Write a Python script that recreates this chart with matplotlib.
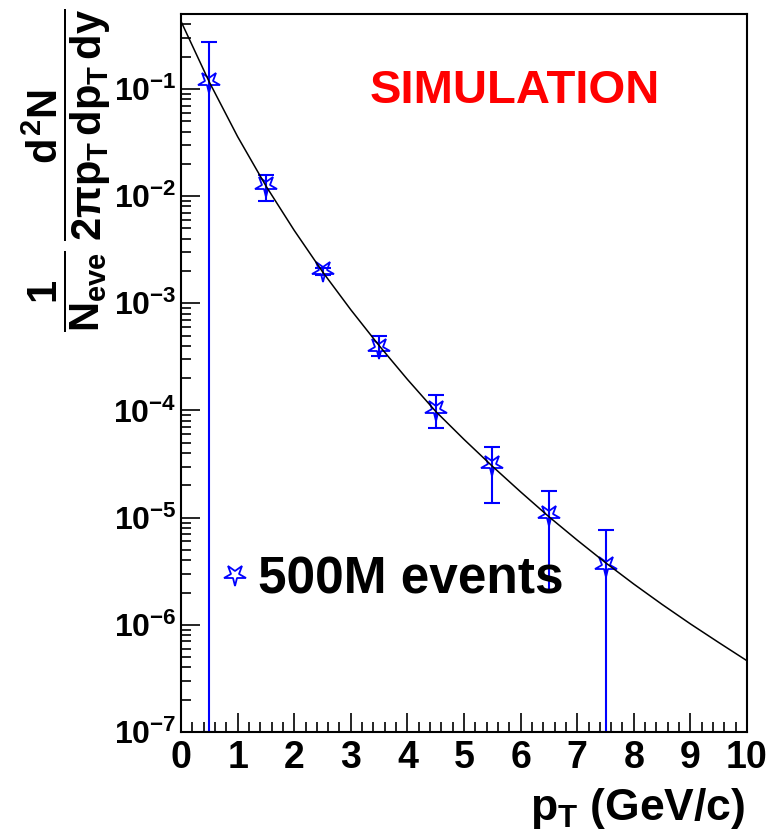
import numpy as np
import matplotlib
matplotlib.use("Agg")
import matplotlib.pyplot as plt
from matplotlib.markers import MarkerStyle
from matplotlib.transforms import Affine2D
from matplotlib.lines import Line2D
from matplotlib.ticker import FixedLocator, NullFormatter

plt.rcParams['font.family'] = ['Liberation Sans', 'DejaVu Sans']
plt.rcParams['font.weight'] = 'bold'
plt.rcParams['mathtext.fontset'] = 'custom'
plt.rcParams['mathtext.rm'] = 'Liberation Sans:bold'
plt.rcParams['mathtext.it'] = 'Liberation Sans:bold'
plt.rcParams['mathtext.bf'] = 'Liberation Sans:bold'
plt.rcParams['mathtext.sf'] = 'Liberation Sans:bold'

# ---- data ----
pt_centers = [0.5, 1.5, 2.5, 3.5, 4.5, 5.5, 6.5, 7.5]
yield_vals = [1.17e-1, 1.25e-2, 2.0e-3, 3.8e-4, 1.0e-4, 3.1e-5, 1.05e-5, 3.55e-6]
yield_hi = [2.75e-1, 1.57e-2, 2.15e-3, 4.9e-4, 1.38e-4, 4.6e-5, 1.78e-5, 7.6e-6]
yield_lo = [1.0e-7, 9.0e-3, 1.85e-3, 3.2e-4, 6.8e-5, 1.36e-5, 2.1e-6, 1.0e-7]

fit_x = [0.0, 0.5, 1.0, 1.5, 2.0, 2.5, 3.0, 3.5, 4.0, 4.5, 5.0,
         5.5, 6.0, 6.5, 7.0, 7.5, 8.0, 8.5, 9.0, 9.5, 10.0]
fit_y = [4.27e-1, 1.16e-1, 3.59e-2, 1.245e-2, 4.79e-3, 1.97e-3, 8.7e-4, 4.03e-4,
         1.95e-4, 9.8e-5, 5.37e-5, 3.02e-5, 1.74e-5, 1.02e-5, 6.17e-6, 3.8e-6,
         2.4e-6, 1.55e-6, 1.02e-6, 6.84e-7, 4.62e-7]

xtick_vals = [0, 1, 2, 3, 4, 5, 6, 7, 8, 9, 10]
xtick_labels = ['0', '1', '2', '3', '4', '5', '6', '7', '8', '9', '10']
ytick_vals = [1e-7, 1e-6, 1e-5, 1e-4, 1e-3, 1e-2, 1e-1]
ytick_labels = [r'$10^{-7}$', r'$10^{-6}$', r'$10^{-5}$', r'$10^{-4}$',
                r'$10^{-3}$', r'$10^{-2}$', r'$10^{-1}$']
legend_label = '500M events'
title_text = 'SIMULATION'

# ---- figure ----
W, H = 767, 835
fig = plt.figure(figsize=(W / 100, H / 100), dpi=100)
ax = fig.add_axes([181 / W, 1 - 732 / H, 566 / W, 718 / H])

ax.set_yscale('log')
ax.set_xlim(0, 10)
ax.set_ylim(1e-7, 0.5)

star = MarkerStyle('*', transform=Affine2D().rotate_deg(180))

y = np.array(yield_vals)
yerr = np.vstack([y - np.array(yield_lo), np.array(yield_hi) - y])
ax.errorbar(pt_centers, y, yerr=yerr, fmt='none', ecolor='#0000ff',
            elinewidth=1.5, capsize=5.5, capthick=1.5, zorder=2)
ax.plot(pt_centers, y, linestyle='none', marker=star, markersize=16,
        markerfacecolor='none', markeredgecolor='#0000ff',
        markeredgewidth=1.3, zorder=3)
ax.plot(fit_x, fit_y, color='black', linewidth=1.1, zorder=4)

# ticks
ax.set_xticks(xtick_vals, xtick_labels)
ax.xaxis.set_minor_locator(FixedLocator(
    [v / 5 for v in range(0, 51) if v % 5 != 0]))
ax.set_yticks(ytick_vals, ytick_labels)
ax.yaxis.set_minor_locator(FixedLocator(
    [m * 10.0 ** e for e in range(-7, 0) for m in range(2, 10)]))
ax.yaxis.set_minor_formatter(NullFormatter())
ax.tick_params(axis='both', which='both', direction='in',
               top=False, right=False, width=1.2, color='black')
ax.tick_params(axis='both', which='major', length=14)
ax.tick_params(axis='both', which='minor', length=7)
ax.tick_params(axis='x', which='major', labelsize=27, pad=6)
ax.tick_params(axis='y', which='major', labelsize=23, pad=3)
for sp in ax.spines.values():
    sp.set_linewidth(1.5)

# legend
handle = Line2D([], [], linestyle='none', marker=star, markersize=16,
                markerfacecolor='none', markeredgecolor='#0000ff',
                markeredgewidth=1.3)
ax.legend([handle], [legend_label], loc='center left',
          bbox_to_anchor=(0.072, 0.212), frameon=False, fontsize=37,
          handlelength=0.5, handletextpad=0.2, borderpad=0,
          borderaxespad=0)

ax.text(0.334, 0.876, title_text, transform=ax.transAxes, color='#ff0000',
        fontsize=34, fontweight='bold', ha='left', va='baseline')

# axis titles
fig.text(745 / W, 1 - 820 / H, r'$p_{T}$ (GeV/c)', fontsize=32,
         fontweight='bold', ha='right', va='baseline')
fig.text(66 / W, 1 - 170 / H,
         r'$\dfrac{1}{N_{eve}}\,\dfrac{d^{2}N}{2\pi p_{T}\,dp_{T}\,dy}$',
         fontsize=30, rotation=90, ha='center', va='center')

fig.savefig('out.png', dpi=100)
